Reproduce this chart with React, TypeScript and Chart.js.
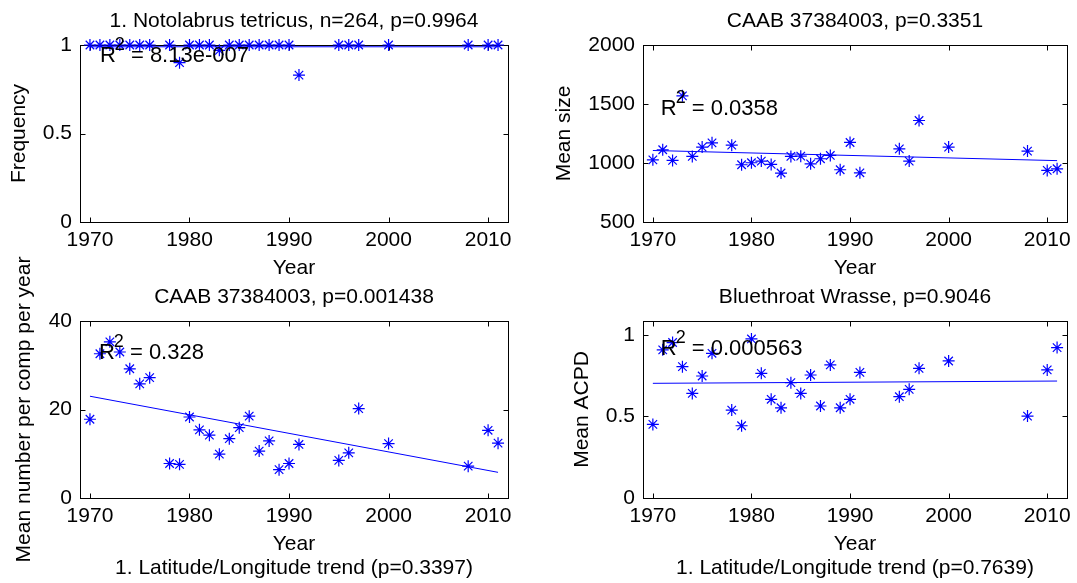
import React, { useEffect, useRef } from 'react';
import { Chart, registerables } from 'chart.js';

Chart.register(...registerables);

const W = 1077;
const H = 583;
const FONT = '"Liberation Sans", Arial, Helvetica, sans-serif';
const BLUE = '#0000ff';

// ---- data ----
const years = [1970, 1971, 1972, 1973, 1974, 1975, 1976, 1978, 1979, 1980, 1981, 1982, 1983, 1984, 1985, 1986, 1987, 1988, 1989, 1990, 1991, 1995, 1996, 1997, 2000, 2008, 2010, 2011];
const frequency = [1, 1, 1, 1, 1, 1, 1, 1, 0.9, 1, 1, 1, 0.97, 1, 1, 1, 1, 1, 1, 1, 0.83, 1, 1, 1, 1, 1, 1, 1];
const meanSize = [1027, 1112, 1022, 1569, 1056, 1135, 1171, 1151, 985, 1002, 1016, 988, 915, 1056, 1058, 993, 1036, 1064, 943, 1174, 917, 1120, 1016, 1360, 1135, 1101, 937, 951];
const meanNumber = [17.8, 32.6, 35.3, 33.0, 29.2, 25.8, 27.2, 7.8, 7.6, 18.3, 15.4, 14.2, 9.9, 13.4, 15.9, 18.5, 10.6, 12.9, 6.4, 7.8, 12.1, 8.5, 10.2, 20.2, 12.3, 7.2, 15.3, 12.4];
const meanACPD = [0.451, 0.908, 0.953, 0.805, 0.641, 0.748, 0.887, 0.539, 0.443, 0.975, 0.764, 0.605, 0.553, 0.707, 0.641, 0.754, 0.564, 0.816, 0.553, 0.605, 0.770, 0.621, 0.666, 0.795, 0.840, 0.502, 0.785, 0.922];

const trendYears = [1970, 2011];
const trendFrequency = [0.99, 0.99];
const trendSize = [1106, 1020];
const trendNumber = [23.0, 5.8];
const trendACPD = [0.703, 0.717];

const xTickValues = [1970, 1980, 1990, 2000, 2010];
const freqTicks = [0, 0.5, 1];
const sizeTicks = [500, 1000, 1500, 2000];
const numberTicks = [0, 20, 40];
const acpdTicks = [0, 0.5, 1];

const titles = [
  '1. Notolabrus tetricus, n=264, p=0.9964',
  'CAAB 37384003, p=0.3351',
  'CAAB 37384003, p=0.001438',
  'Bluethroat Wrasse, p=0.9046',
];
const yLabels = ['Frequency', 'Mean size', 'Mean number per comp per year', 'Mean ACPD'];
const r2Values = ['8.13e-007', '0.0358', '0.328', '0.000563'];
const footers = ['', '', '1. Latitude/Longitude trend (p=0.3397)', '1. Latitude/Longitude trend (p=0.7639)'];

type Panel = {
  box: { l: number; t: number; r: number; b: number };
  values: number[];
  trend: number[];
  yMin: number;
  yMax: number;
  yTicks: number[];
  title: string;
  yLabel: string;
  r2: string;
  r2At: [number, number];
  footer: string;
};

const panels: Panel[] = [
  { box: { l: 80, t: 45, r: 508, b: 222 }, values: frequency, trend: trendFrequency, yMin: 0, yMax: 1, yTicks: freqTicks, title: titles[0], yLabel: yLabels[0], r2: r2Values[0], r2At: [1971.0, 0.938], footer: footers[0] },
  { box: { l: 643, t: 45, r: 1068, b: 222 }, values: meanSize, trend: trendSize, yMin: 500, yMax: 2000, yTicks: sizeTicks, title: titles[1], yLabel: yLabels[1], r2: r2Values[1], r2At: [1970.8, 1459], footer: footers[1] },
  { box: { l: 80, t: 321, r: 508, b: 498 }, values: meanNumber, trend: trendNumber, yMin: 0, yMax: 40, yTicks: numberTicks, title: titles[2], yLabel: yLabels[2], r2: r2Values[2], r2At: [1970.9, 32.8], footer: footers[2] },
  { box: { l: 643, t: 321, r: 1068, b: 498 }, values: meanACPD, trend: trendACPD, yMin: 0, yMax: 1.085, yTicks: acpdTicks, title: titles[3], yLabel: yLabels[3], r2: r2Values[3], r2At: [1970.8, 0.911], footer: footers[3] },
];

const TICK_FONT = 21;
const LABEL_FONT = 21;
const R2_FONT = 22;
const SUP_FONT = 18;
const TICK_LEN = 5;
const Y_AXIS_W = 64;
const X_AXIS_H = 40;

function decorPlugin(p: Panel) {
  return {
    id: 'decor',
    beforeDatasetsDraw(chart: any) {
      const { ctx, chartArea: a, scales } = chart;
      ctx.save();
      ctx.strokeStyle = '#000';
      ctx.lineWidth = 1;
      const L = Math.round(a.left) + 0.5;
      const R = Math.round(a.right) + 0.5;
      const T = Math.round(a.top) + 0.5;
      const B = Math.round(a.bottom) + 0.5;
      ctx.strokeRect(L, T, R - L, B - T);
      ctx.beginPath();
      for (const v of xTickValues) {
        const x = Math.round(scales.x.getPixelForValue(v)) + 0.5;
        ctx.moveTo(x, B); ctx.lineTo(x, B - TICK_LEN);
        ctx.moveTo(x, T); ctx.lineTo(x, T + TICK_LEN);
      }
      for (const v of p.yTicks) {
        const y = Math.round(scales.y.getPixelForValue(v)) + 0.5;
        ctx.moveTo(L, y); ctx.lineTo(L + TICK_LEN, y);
        ctx.moveTo(R, y); ctx.lineTo(R - TICK_LEN, y);
      }
      ctx.stroke();
      ctx.restore();
    },
    afterDraw(chart: any) {
      const { ctx, chartArea: a, scales } = chart;
      ctx.save();
      ctx.fillStyle = '#000';
      const cx = (a.left + a.right) / 2;
      const cy = (a.top + a.bottom) / 2;
      ctx.font = `${LABEL_FONT}px ${FONT}`;
      ctx.textAlign = 'center';
      ctx.textBaseline = 'middle';
      ctx.fillText(p.title, cx, a.top - 24);
      ctx.fillText('Year', cx, a.bottom + 46);
      if (p.footer) ctx.fillText(p.footer, cx, a.bottom + 70);

      // y label, placed left of the widest tick label
      ctx.font = `${TICK_FONT}px ${FONT}`;
      let maxW = 0;
      for (const v of p.yTicks) maxW = Math.max(maxW, ctx.measureText(String(v)).width);
      ctx.font = `${LABEL_FONT}px ${FONT}`;
      ctx.save();
      ctx.translate(a.left - 8 - maxW - 24, cy);
      ctx.rotate(-Math.PI / 2);
      ctx.fillText(p.yLabel, 0, 0);
      ctx.restore();

      // R^2 annotation
      const px = scales.x.getPixelForValue(p.r2At[0]);
      const py = scales.y.getPixelForValue(p.r2At[1]);
      ctx.textAlign = 'left';
      ctx.textBaseline = 'middle';
      ctx.font = `${R2_FONT}px ${FONT}`;
      ctx.fillText('R', px, py);
      const rw = ctx.measureText('R').width;
      ctx.font = `${SUP_FONT}px ${FONT}`;
      ctx.textBaseline = 'alphabetic';
      ctx.fillText('2', px + rw - 1, py - 6);
      const w2 = ctx.measureText('2').width;
      ctx.font = `${R2_FONT}px ${FONT}`;
      ctx.textBaseline = 'middle';
      ctx.fillText(' = ' + p.r2, px + rw - 1 + w2, py);
      ctx.restore();
    },
  };
}

function buildConfig(p: Panel): any {
  return {
    type: 'scatter',
    data: {
      datasets: [
        {
          data: years.map((x, i) => ({ x, y: p.values[i] })),
          pointStyle: 'star',
          pointRadius: 6,
          pointBorderWidth: 1.2,
          borderColor: BLUE,
          backgroundColor: BLUE,
          showLine: false,
          clip: false,
        },
        {
          data: trendYears.map((x, i) => ({ x, y: p.trend[i] })),
          showLine: true,
          pointRadius: 0,
          borderColor: BLUE,
          borderWidth: 1,
          clip: false,
        },
      ],
    },
    options: {
      animation: false,
      responsive: false,
      events: [],
      layout: {
        padding: {
          left: p.box.l - Y_AXIS_W,
          top: p.box.t,
          right: W - p.box.r,
          bottom: H - p.box.b - X_AXIS_H,
        },
      },
      plugins: { legend: { display: false }, tooltip: { enabled: false }, title: { display: false } },
      scales: {
        x: {
          type: 'linear',
          min: 1969,
          max: 2012,
          grid: { display: false, drawTicks: false },
          border: { display: false },
          ticks: {
            font: { family: FONT, size: TICK_FONT },
            color: '#000',
            padding: 6,
            autoSkip: false,
            maxRotation: 0,
            callback: (v: any) => String(v),
          },
          afterBuildTicks: (s: any) => { s.ticks = xTickValues.map((v) => ({ value: v })); },
          afterFit: (s: any) => { s.height = X_AXIS_H; },
        },
        y: {
          type: 'linear',
          min: p.yMin,
          max: p.yMax,
          grid: { display: false, drawTicks: false },
          border: { display: false },
          ticks: {
            font: { family: FONT, size: TICK_FONT },
            color: '#000',
            padding: 8,
            autoSkip: false,
            callback: (v: any) => String(v),
          },
          afterBuildTicks: (s: any) => { s.ticks = p.yTicks.map((v) => ({ value: v })); },
          afterFit: (s: any) => { s.width = Y_AXIS_W; },
        },
      },
    },
    plugins: [decorPlugin(p)],
  };
}

function PanelChart({ p }: { p: Panel }) {
  const ref = useRef<HTMLCanvasElement>(null);
  useEffect(() => {
    const chart = new Chart(ref.current as HTMLCanvasElement, buildConfig(p));
    return () => chart.destroy();
  }, [p]);
  return <canvas ref={ref} width={W} height={H} style={{ position: 'absolute', left: 0, top: 0 }} />;
}

export default function App() {
  return (
    <div style={{ position: 'absolute', left: 0, top: 0, width: W, height: H, background: '#fff', overflow: 'hidden' }}>
      {panels.map((p, i) => (
        <PanelChart key={i} p={p} />
      ))}
    </div>
  );
}
